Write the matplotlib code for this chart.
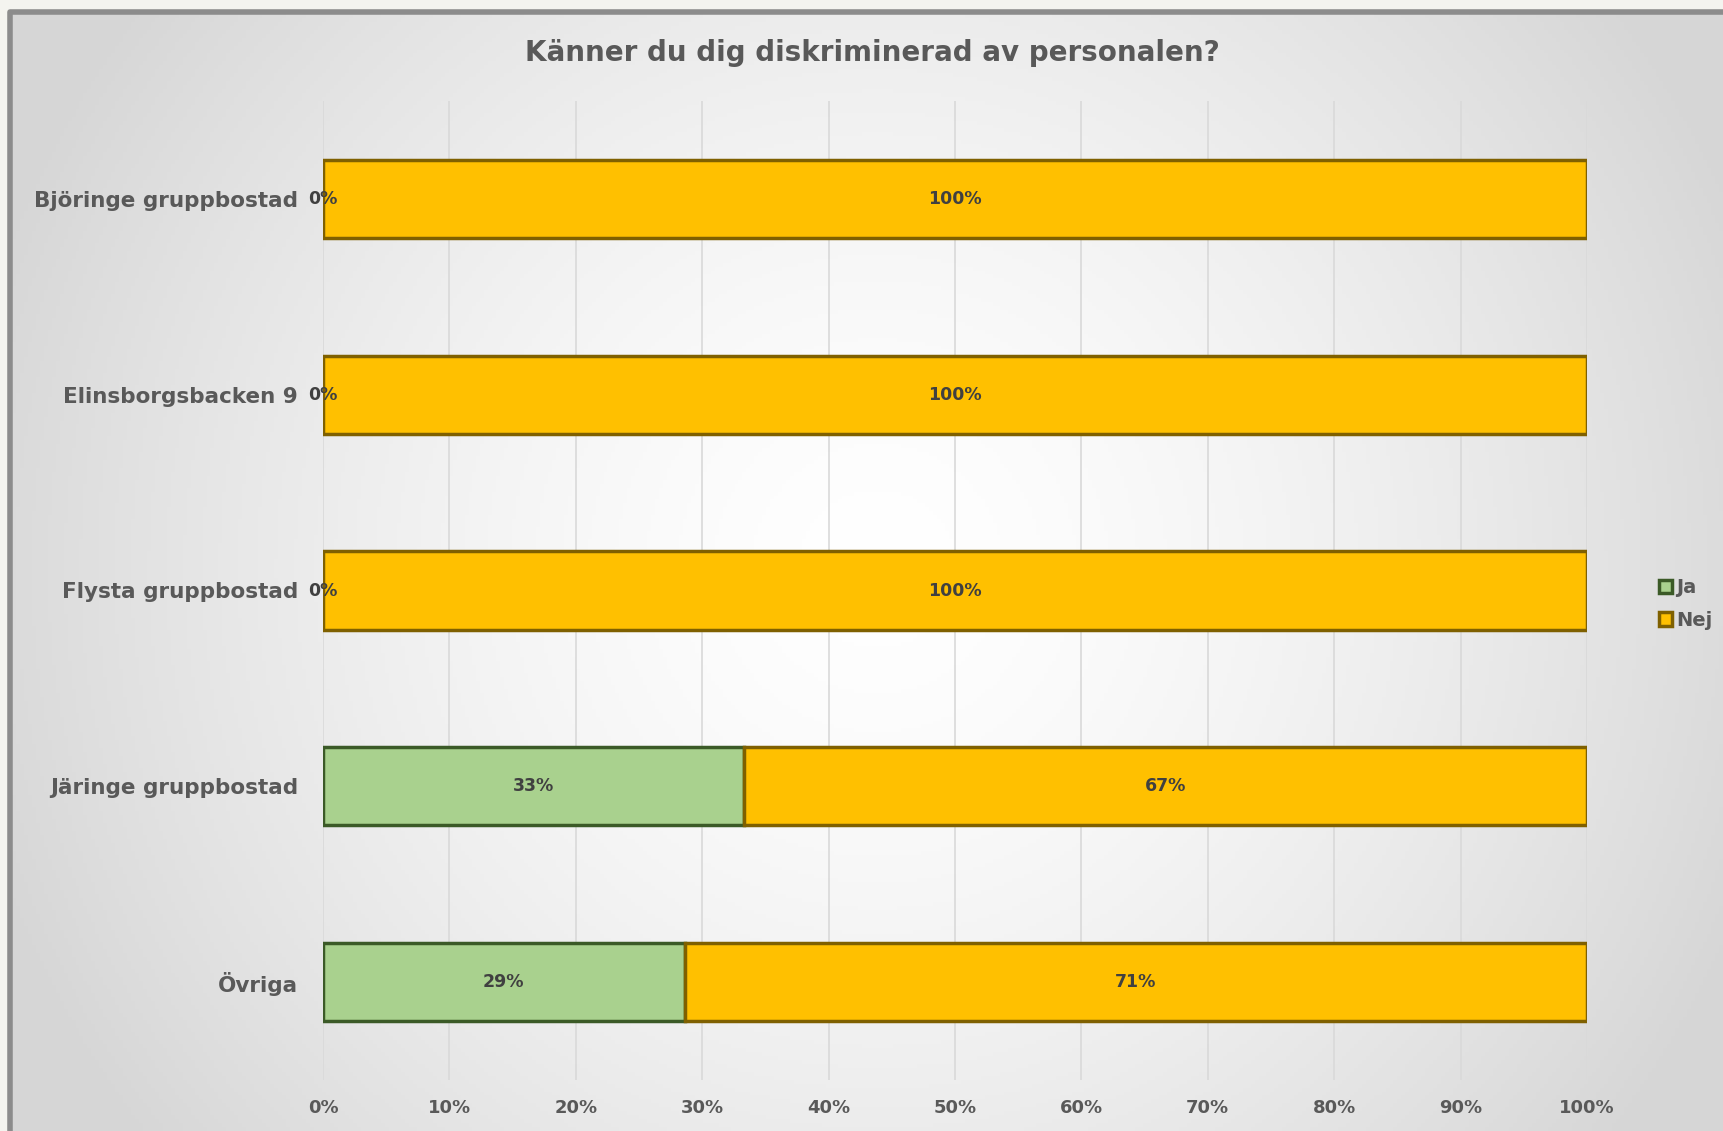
import matplotlib.pyplot as plt
import numpy as np
from matplotlib.patches import Patch, Rectangle

# data
categories = ["Björinge gruppbostad", "Elinsborgsbacken 9", "Flysta gruppbostad",
              "Järinge gruppbostad", "Övriga"]
ja = [0, 0, 0, 33.3, 28.6]
nej = [100, 100, 100, 66.7, 71.4]
xticks = [0, 10, 20, 30, 40, 50, 60, 70, 80, 90, 100]

W, H = 1723, 1131
txt = "#595959"
ja_fill, ja_edge = "#a9d18e", "#3b5a27"
nej_fill, nej_edge = "#ffc000", "#7f6000"

plt.rcParams['font.family'] = ['DejaVu Sans']

fig = plt.figure(figsize=(W / 100, H / 100), dpi=100)

# background: off-white page, gray frame, radial gradient inside
bg = fig.add_axes([0, 0, 1, 1])
bg.set_xlim(0, W)
bg.set_ylim(H, 0)
bg.axis("off")
bg.add_patch(Rectangle((0, 0), W, H, facecolor="#f4f4ef", edgecolor="none"))
yy, xx = np.mgrid[0:H:4, 0:W:4]
d = np.sqrt(((xx - 870) / 900.0) ** 2 + ((yy - 560) / 900.0) ** 2)
v = (255 - 38 * np.clip(d, 0, 1.05) ** 1.5) / 255.0
img = np.dstack([v, v, v])
bg.imshow(img, extent=[12, W, H, 14], aspect="auto", zorder=1)
bg.plot([9.5, 9.5, W], [H, 11.5, 11.5], color="#8c8c8c", lw=4, zorder=2,
        solid_capstyle="butt")

ax = fig.add_axes([323 / W, 1 - 1080 / H, (1587 - 323) / W, (1080 - 101) / H])
ax.patch.set_alpha(0)
y = np.arange(len(categories))
b1 = ax.barh(y, ja, height=0.4, color=ja_fill, edgecolor=ja_edge, linewidth=2.5,
             label="Ja", zorder=3)
b2 = ax.barh(y, nej, left=ja, height=0.4, color=nej_fill, edgecolor=nej_edge,
             linewidth=2.5, label="Nej", zorder=3)
ax.bar_label(b1, labels=["%.0f%%" % v for v in ja], label_type="center",
             fontsize=12.5, fontweight="bold", color="#404040")
ax.bar_label(b2, labels=["%.0f%%" % v for v in nej], label_type="center",
             fontsize=12.5, fontweight="bold", color="#404040")

ax.set_ylim(len(categories) - 0.5, -0.5)
ax.set_xlim(0, 100)
ax.set_yticks(y)
ax.set_yticklabels(categories, fontsize=15.5, fontweight="bold", color=txt)
ax.set_xticks(xticks)
ax.set_xticklabels(["%d%%" % t for t in xticks], fontsize=13,
                   fontweight="bold", color=txt)
ax.tick_params(axis="y", length=0, pad=18)
ax.tick_params(axis="x", length=0, pad=14)
ax.grid(axis="x", color="#d9d9d9", linewidth=1.2, zorder=0)
ax.set_axisbelow(True)
for s in ax.spines.values():
    s.set_visible(False)

fig.text(872 / W, 1 - 53 / H, "Känner du dig diskriminerad av personalen?",
         ha="center", va="center", fontsize=20, fontweight="bold", color=txt)

handles = [Patch(facecolor=ja_fill, edgecolor=ja_edge, linewidth=2.5, label="Ja"),
           Patch(facecolor=nej_fill, edgecolor=nej_edge, linewidth=2.5, label="Nej")]
fig.legend(handles=handles, loc="center left", bbox_to_anchor=(1641 / W, 1 - 604 / H),
           frameon=False, labelcolor=txt, handlelength=0.7,
           handleheight=0.7, handletextpad=0.2, labelspacing=0.7,
           prop={"weight": "bold", "size": 14})

fig.savefig("out.png", dpi=100)
